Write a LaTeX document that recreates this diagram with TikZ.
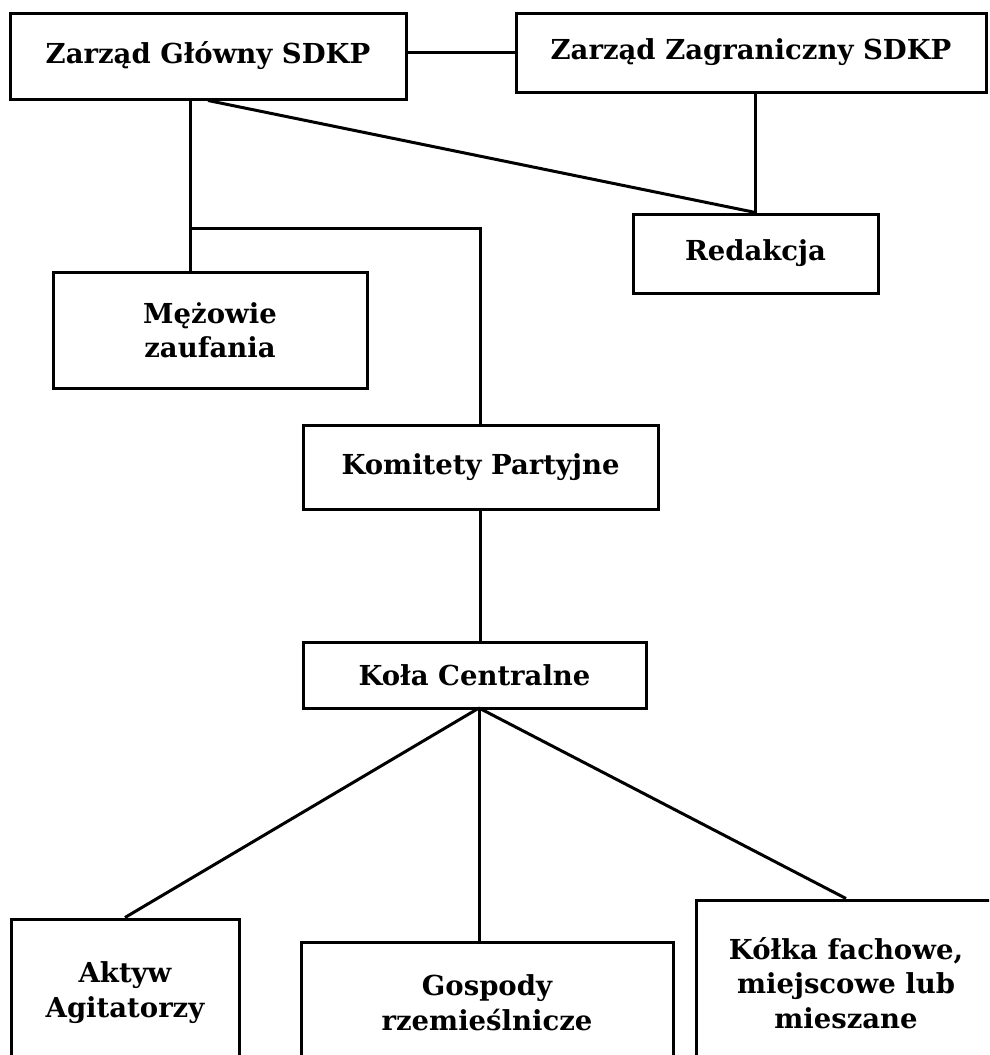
\documentclass[tikz,border=0pt]{standalone}
\usepackage{fontspec}
\setmainfont{DejaVu Serif}
\usepackage{tikz}

\begin{document}
\begin{tikzpicture}[
    x=1pt,
    y=-1pt,
    line width=3pt,
    main node/.style={draw, fill=white, align=center, inner sep=0pt,
      font=\bfseries\fontsize{27.5}{34.5}\selectfont}
    ]
    \useasboundingbox (0,0) rectangle (989,1055);
    \clip (0,0) rectangle (989,1055);

    \node[main node, minimum width=396, minimum height=86] (1) at (208,56) {Zarząd Główny SDKP};
    \node[main node, minimum width=470, minimum height=79] (2) at (751,52.5) {Zarząd Zagraniczny SDKP};
    \node[main node, minimum width=245, minimum height=79] (3) at (755.5,253.5) {Redakcja};
    \node[main node, minimum width=314, minimum height=116] (4) at (210,330) {Mężowie\\zaufania};
    \node[main node, minimum width=355, minimum height=84] (5) at (480.5,467) {Komitety Partyjne};
    \node[main node, minimum width=343, minimum height=66] (6) at (474.5,675) {Koła Centralne};
    \node[main node, minimum width=228, minimum height=147] (7) at (125,992.5) {Aktyw\\Agitatorzy};
    \node[main node, minimum width=372, minimum height=121] (8) at (487,1002.5) {Gospody\\rzemieślnicze};
    \node[main node, minimum width=300, minimum height=166] (9) at (846,983) {Kółka fachowe,\\miejscowe lub\\mieszane};

    \coordinate (j) at (190,228);
    \coordinate (f) at (479,708);

    \path[]
      (2.west) edge (2.west -| 1.east)
      (1.south) edge (3.north)
      (3.north) edge (3.north |- 2.south)
      (5.south) edge (5.south |- 6.north)
      (f) edge (7.north)
      (f) edge (8.north -| f)
      (f) edge (9.north);
    \draw (1.south -| j) -- (4.north -| j);
    \draw (j) -| (5.north);
  \end{tikzpicture}
\end{document}
